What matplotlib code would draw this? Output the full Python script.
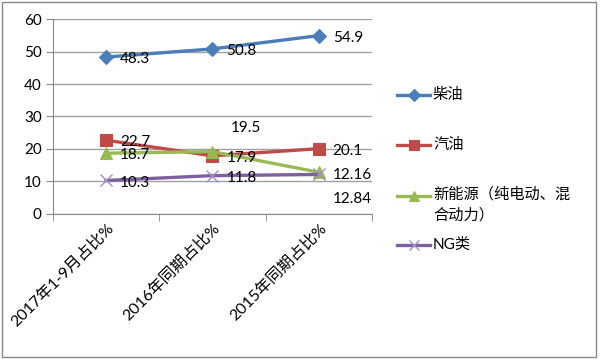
"""Line chart: share by fuel type, 2015-2017."""

import matplotlib
matplotlib.use('Agg')
import matplotlib.pyplot as plt
from matplotlib.lines import Line2D
from matplotlib.patches import Rectangle

plt.rcParams['font.family'] = ['Lato', 'Noto Sans CJK SC', 'DejaVu Sans']

categories = ['2017年1-9月占比%', '2016年同期占比%', '2015年同期占比%']
diesel = [48.3, 50.8, 54.9]
gasoline = [22.7, 17.9, 20.1]
new_energy = [18.7, 19.2, 12.84]
ng = [10.3, 11.8, 12.16]

diesel_labels = ['48.3', '50.8', '54.9']
gasoline_labels = ['22.7', '17.9', '20.1']
new_energy_labels = ['18.7', '19.5', '12.84']
ng_labels = ['10.3', '11.8', '12.16']

series = [
    ('柴油', diesel, diesel_labels, '#4A7EBB', 'D', 7),
    ('汽油', gasoline, gasoline_labels, '#BE4B48', 's', 8.5),
    ('新能源（纯电动、混\n合动力）', new_energy, new_energy_labels, '#98B954', '^', 8.5),
    ('NG类', ng, ng_labels, '#7D60A0', 'x', 9),
]

W, H = 600, 359
fig = plt.figure(figsize=(W / 100, H / 100), dpi=100)
ax = fig.add_axes([0.088, 0.404, 0.532, 0.543])

x = list(range(len(categories)))
for name, vals, labs, color, mk, ms in series:
    edge = '#A28EC4' if mk == 'x' else color
    ax.plot(x, vals, color=color, linewidth=2.4, marker=mk, markersize=ms,
            markeredgewidth=1.0 if mk == 'x' else 0.8, markeredgecolor=edge,
            zorder=3)
    for i, (v, t) in enumerate(zip(vals, labs)):
        dx, dy = 10, -1.5
        if t == '19.5':
            dx, dy = 13, 17
        elif t == '12.84':
            dx, dy = 10, -19
        elif t == '12.16':
            dx, dy = 10, -0.5
        ax.annotate(t, (i, v), xytext=(dx, dy), textcoords='offset points',
                    ha='left', va='center', fontsize=11, color='black', zorder=4)

ax.set_xlim(-0.5, 2.5)
ax.set_ylim(0, 60)
ax.set_yticks(range(0, 61, 10))
ax.set_xticks(x)
ax.set_xticks([-0.5, 0.5, 1.5, 2.5], minor=True)
ax.set_xticklabels(categories, rotation=45, ha='right', rotation_mode='anchor',
                   fontsize=11.5)
ax.tick_params(axis='x', which='major', length=0, pad=5)
ax.tick_params(axis='x', which='minor', length=5, color='#888888', direction='out')
ax.tick_params(axis='y', length=5, color='#888888', labelsize=11, pad=3)
ax.grid(axis='y', color='#A0A0A0', linewidth=1.0)
ax.set_axisbelow(True)
for s in ['top', 'right']:
    ax.spines[s].set_visible(False)
ax.spines['left'].set_color('#888888')
ax.spines['bottom'].set_color('#888888')

# legend drawn by hand to keep the Excel spacing
legend_y = [95, 145, 196, 245]
for (name, vals, labs, color, mk, ms), py in zip(series, legend_y):
    yf = 1 - py / H
    edge = '#A28EC4' if mk == 'x' else color
    fig.add_artist(Line2D([397 / W, 430 / W], [yf, yf], color=color, linewidth=2.4))
    fig.add_artist(Line2D([413.5 / W], [yf], color=color, marker=mk,
                          markersize=ms * 0.85, markeredgecolor=edge,
                          markeredgewidth=1.0 if mk == 'x' else 0.8,
                          linestyle='none'))
    if '\n' in name:
        fig.text(433 / W, yf + 9 / H, name, ha='left', va='top', fontsize=11,
                 linespacing=1.55)
    else:
        fig.text(433 / W, yf, name, ha='left', va='center', fontsize=11)

fig.patches.append(Rectangle((0.004, 0.006), 0.99, 0.988, transform=fig.transFigure,
                             fill=False, edgecolor='#888888', linewidth=1.0))

fig.savefig('out.png', dpi=100)
